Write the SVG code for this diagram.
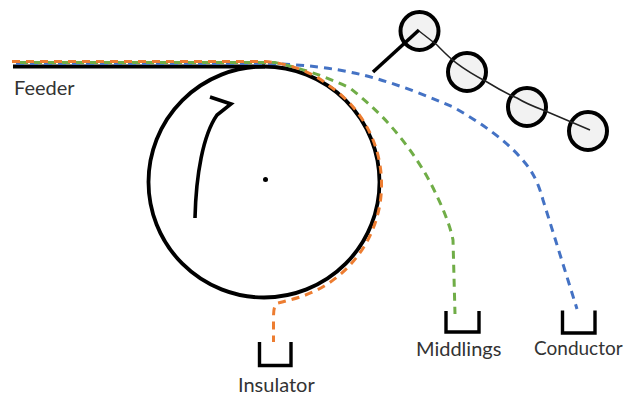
<svg xmlns="http://www.w3.org/2000/svg" width="624" height="396" viewBox="0 0 624 396">
<style>
.k{fill:none;stroke:#000;stroke-width:3.6}
.b{fill:none;stroke:#000;stroke-width:3.4;stroke-linejoin:miter}
.d{fill:none;stroke-width:3;stroke-dasharray:8 6}
.e{fill:#f2f2f2;stroke:#000;stroke-width:4}
.t{font-family:"Lato","Open Sans",sans-serif;font-size:20px;fill:#333}
</style>
<rect width="624" height="396" fill="#fff"/>
<g id="drum"><circle cx="264" cy="182" r="115.5" fill="#fff" stroke="#000" stroke-width="3.8"/><circle cx="265.500" cy="179.500" r="2.500" fill="#000"/></g>
<g id="electrode-balls">
<circle class="e" cx="419.500" cy="31" r="19"/><circle class="e" cx="467" cy="72" r="19"/><circle class="e" cx="527" cy="107" r="19"/><circle class="e" cx="588" cy="131" r="19"/>
</g>
<g id="connectors">
<path d="M419 31 L437 45 C448 56 455 65 487 82 C500 90 510 95 517 98 C525 103 535 107 543 110 L590 130" fill="none" stroke="#222" stroke-width="1.500"/>
<path d="M373 72 L419 30" fill="none" stroke="#000" stroke-width="3.600"/>
<path d="M195 218 C196 175 203 135 217 115 L231 104 L210 97" class="k"/>
<path d="M13 66.500 H265" fill="none" stroke="#000" stroke-width="4"/>
<path class="d" stroke="#4472c4" d="M16 63.500 H264 C300 64 335 68 363 75 C395 83 425 95 453 107 C480 122 505 140 520 157 C530 168 537 178 543 200 L577 309"/>
<path class="d" stroke="#70ad47" d="M20 62.500 H275 C300 68 325 76 350 88 C375 108 388 122 400 137 C412 152 422 167 430 182 C442 205 450 225 453 240 L455 314"/>
<path class="d" stroke="#ed7d31" d="M12 61.500 H265 C285 63 310 70 328 85 A118 118 0 0 1 381.500 182 A118 118 0 0 1 300 297 C290 300 282 302 278 303 C274 305 273.500 310 273.500 318 L273.500 342"/>
</g>
<g id="feeder"><text class="t" x="14" y="95">Feeder</text></g>
<g id="insulator"><path class="b" d="M259.500 342 V365.500 H291 V342"/><text class="t" x="238" y="391.500">Insulator</text></g>
<g id="middlings"><path class="b" d="M446 311 V332 H479 V311"/><text class="t" x="416" y="356">Middlings</text></g>
<g id="conductor"><path class="b" d="M562.500 310.500 V333 H595 V310.500"/><text class="t" x="534" y="355" style="font-size:19px">Conductor</text></g>
</svg>
